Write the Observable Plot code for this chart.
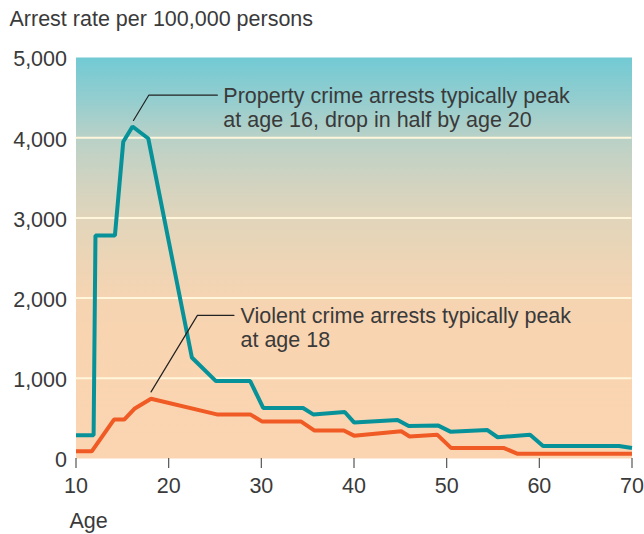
<!DOCTYPE html>
<html>
<head>
<meta charset="utf-8">
<script src="https://cdn.jsdelivr.net/npm/d3@7"></script>
<script src="https://cdn.jsdelivr.net/npm/@observablehq/plot@0.6"></script>
<style>
  html, body { margin: 0; padding: 0; background: #fff; }
  #chart { width: 644px; height: 534px; }
</style>
</head>
<body>
<div id="chart"></div>
<script>
// ---- Data ----
const propertyAges   = [10, 11.9, 12.1, 14.2, 15.1, 16.1, 17.8, 22.5, 25.1, 28.8, 30.2, 34.5, 35.6, 39.0, 40.0, 44.7, 45.9, 49.1, 50.4, 54.4, 55.5, 59.0, 60.4, 68.6, 70];
const propertyRates  = [290, 290, 2780, 2780, 3950, 4140, 3990, 1260, 965, 965, 630, 630, 550, 580, 450, 480, 405, 410, 335, 355, 265, 295, 155, 155, 130];

const violentAges    = [10, 11.7, 14.1, 15.2, 16.3, 18.1, 25.2, 28.8, 30.1, 34.3, 35.7, 38.9, 40.0, 45.1, 46.0, 49.0, 50.5, 56.2, 57.6, 70];
const violentRates   = [90, 90, 485, 485, 620, 745, 550, 550, 460, 460, 350, 350, 285, 340, 275, 295, 130, 130, 60, 60];

const xTicks = [10, 20, 30, 40, 50, 60, 70];
const yTicks = [0, 1000, 2000, 3000, 4000, 5000];
const gridValues = [1000, 2000, 3000, 4000];

const titleText = "Arrest rate per 100,000 persons";
const xLabelText = "Age";

const propertyNote = "Property crime arrests typically peak\nat age 16, drop in half by age 20";
const violentNote = "Violent crime arrests typically peak\nat age 18";
// leader line anchor points (age, rate)
const propertyLeader = [{x: 16.2, y: 4215}, {x: 17.85, y: 4530}, {x: 25.25, y: 4530}];
const violentLeader  = [{x: 18.1, y: 830}, {x: 23.1, y: 1785}, {x: 27.05, y: 1785}];
const propertyNoteAt = {x: 25.9, y: 4131};
const violentNoteAt  = {x: 27.75, y: 1388};

// ---- Build tables ----
const property = propertyAges.map((a, i) => ({age: a, rate: propertyRates[i]}));
const violent = violentAges.map((a, i) => ({age: a, rate: violentRates[i]}));

const FONT = "'Liberation Sans', Arial, Helvetica, sans-serif";
const FS = 21.5;
const TEXT = "#3a3a3a";

const gradientDefs = () => {
  const defs = d3.create("svg:defs");
  const g = defs.append("linearGradient").attr("id", "bggrad")
    .attr("x1", 0).attr("y1", 0).attr("x2", 0).attr("y2", 1);
  const stops = [
    [0, "#72cad4"],
    [0.1, "#92cdcf"],
    [0.2, "#b9d1c7"],
    [0.3, "#cfd3c1"],
    [0.4, "#e1d5bb"],
    [0.5, "#ecd5b6"],
    [0.6, "#f5d4b2"],
    [0.7, "#f9d4b0"],
    [1, "#fbd5b1"]
  ];
  for (const [o, c] of stops) g.append("stop").attr("offset", o).attr("stop-color", c);
  return defs.node();
};

const chart = Plot.plot({
  width: 644,
  height: 534,
  marginTop: 57,
  marginLeft: 75.5,
  marginRight: 12.5,
  marginBottom: 76,
  style: {fontFamily: FONT, fontSize: FS + "px", color: TEXT, background: "#fff", overflow: "visible"},
  x: {domain: [10, 70], ticks: xTicks, label: null},
  y: {domain: [0, 5000], ticks: yTicks, label: null},
  marks: [
    gradientDefs,
    Plot.frame({fill: "url(#bggrad)", stroke: "none"}),
    Plot.ruleY(gridValues, {stroke: "#fff6dc", strokeWidth: 2}),
    Plot.axisY({ticks: yTicks, tickSize: 0, tickPadding: 9, tickFormat: d3.format(","), label: null, fontSize: FS, fill: TEXT, dy: 2}),
    Plot.axisX({ticks: xTicks, tickSize: 10, tickPadding: 9, label: null, fontSize: FS, fill: TEXT, stroke: "#555", strokeWidth: 1.2}),
    Plot.line(violent, {x: "age", y: "rate", stroke: "#f05a24", strokeWidth: 4, strokeLinejoin: "miter", strokeLinecap: "butt"}),
    Plot.line(property, {x: "age", y: "rate", stroke: "#07929a", strokeWidth: 4, strokeLinejoin: "miter", strokeLinecap: "butt"}),
    Plot.line(propertyLeader, {x: "x", y: "y", stroke: "#222", strokeWidth: 1.2}),
    Plot.line(violentLeader, {x: "x", y: "y", stroke: "#222", strokeWidth: 1.2}),
    Plot.text([propertyNote], {x: propertyNoteAt.x, y: propertyNoteAt.y, textAnchor: "start", lineAnchor: "bottom", lineHeight: 1.135, fontSize: FS, fill: TEXT}),
    Plot.text([violentNote], {x: violentNoteAt.x, y: violentNoteAt.y, textAnchor: "start", lineAnchor: "bottom", lineHeight: 1.135, fontSize: FS, fill: TEXT}),
    Plot.text([titleText], {frameAnchor: "top-left", textAnchor: "start", lineAnchor: "bottom", dx: -66.5, dy: -32, fontSize: FS, fill: TEXT}),
    Plot.text([xLabelText], {frameAnchor: "bottom-left", textAnchor: "start", lineAnchor: "bottom", dx: -6.5, dy: 69, fontSize: FS, fill: TEXT})
  ]
});

document.getElementById("chart").appendChild(chart);
</script>
</body>
</html>
